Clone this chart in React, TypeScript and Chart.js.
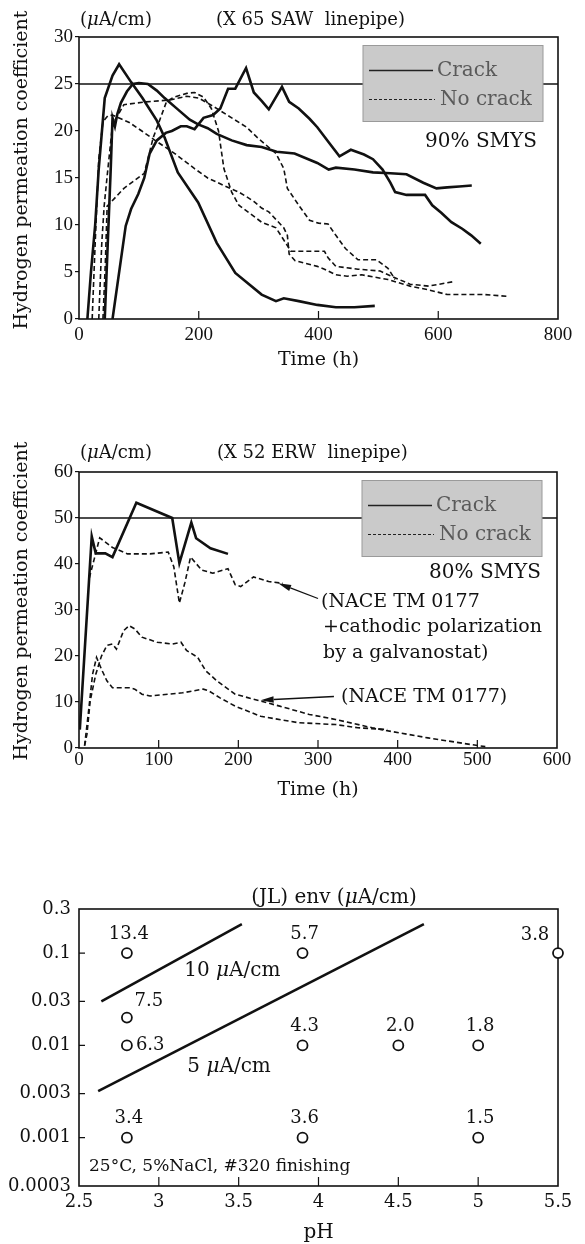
import React, { useEffect, useRef } from "react";
import { Chart, registerables } from "chart.js";

Chart.register(...registerables);

const SERIF = "'DejaVu Serif', 'Liberation Serif', serif";
const TIMES = "'Liberation Serif', 'DejaVu Serif', serif";
const INK = "#111111";
const W = 585;

// ---------------- Panel 1 : X 65 SAW linepipe (90% SMYS) ----------------
const sawTimeTicks = [0, 200, 400, 600, 800];
const sawValueTicks = [0, 5, 10, 15, 20, 25, 30];
const sawThreshold = 25;

const sawCrackAHours = [14, 20, 27, 33, 43, 56, 67, 87, 106, 130, 143, 165, 199, 230, 261, 305, 329, 342, 367, 398, 429, 460, 494];
const sawCrackAValues = [0, 5, 10, 16, 23.5, 25.9, 27.1, 25.2, 23.5, 21.1, 19.3, 15.6, 12.4, 8.1, 4.9, 2.6, 1.9, 2.2, 1.9, 1.5, 1.25, 1.25, 1.4];

const sawCrackBHours = [43, 48, 53, 56, 60, 64, 70, 80, 90, 100, 115, 130, 143, 165, 185, 199, 215, 230, 255, 280, 305, 330, 360, 398, 417, 429, 460, 491, 520, 547, 575, 597, 615, 635, 656];
const sawCrackBValues = [0, 8, 16, 21.4, 20.5, 21.8, 23, 24.2, 25, 25.1, 25, 24.3, 23.5, 22.3, 21.2, 20.7, 20.3, 19.7, 19, 18.5, 18.3, 17.8, 17.6, 16.6, 15.9, 16.1, 15.9, 15.6, 15.5, 15.4, 14.5, 13.9, 14, 14.1, 14.2];

const sawCrackCHours = [56, 78, 87, 99, 109, 118, 130, 145, 155, 170, 180, 193, 208, 224, 236, 249, 261, 279, 292, 305, 317, 339, 351, 367, 385, 398, 417, 435, 454, 476, 491, 507, 520, 528, 547, 578, 590, 605, 622, 640, 655, 671];
const sawCrackCValues = [0, 9.9, 11.7, 13.3, 15, 17.6, 19, 19.8, 20, 20.5, 20.5, 20.2, 21.4, 21.7, 22.4, 24.5, 24.5, 26.7, 24.1, 23.2, 22.3, 24.7, 23.1, 22.4, 21.3, 20.4, 18.8, 17.3, 18, 17.5, 17, 15.9, 14.5, 13.5, 13.2, 13.2, 12.1, 11.3, 10.3, 9.6, 8.9, 8];

const sawNoCrackAHours = [22, 27, 33, 40, 48, 56, 70, 84, 105, 127, 160, 193, 215, 242, 267, 280, 292, 305, 317, 342, 348, 351, 361, 398, 410, 429, 448, 472, 516, 553, 584, 615, 678, 718];
const sawNoCrackAValues = [0, 8, 17, 21, 21.6, 21.7, 21.3, 20.9, 20, 19, 17.6, 16, 15, 14.2, 13.5, 13, 12.5, 11.8, 11.4, 9.7, 8.9, 6.9, 6.2, 5.6, 5.3, 4.7, 4.55, 4.7, 4.2, 3.5, 3.1, 2.6, 2.6, 2.4];

const sawNoCrackBHours = [40, 44, 47, 75, 109, 124, 146, 158, 180, 193, 208, 221, 233, 242, 255, 267, 305, 329, 348, 354, 410, 416, 429, 466, 503, 520, 553, 584, 628];
const sawNoCrackBValues = [0, 6, 12, 13.9, 15.5, 19.3, 23.1, 23.6, 24, 24.1, 23.6, 22.4, 20, 16, 13.5, 12.1, 10.3, 9.7, 7.8, 7.2, 7.2, 6.5, 5.6, 5.3, 5.1, 4.6, 3.7, 3.5, 4];

const sawNoCrackCHours = [33, 38, 42, 47, 56, 75, 112, 152, 180, 200, 225, 255, 280, 298, 329, 342, 348, 367, 385, 400, 416, 429, 445, 466, 497, 516, 528];
const sawNoCrackCValues = [0, 8, 12, 15.2, 20.7, 22.8, 23.1, 23.3, 23.7, 23.5, 22.6, 21.4, 20.4, 19.3, 17.6, 16, 13.9, 12.1, 10.5, 10.2, 10.1, 8.9, 7.5, 6.3, 6.3, 5.4, 4.2];

// ---------------- Panel 2 : X 52 ERW linepipe (80% SMYS) ----------------
const erwTimeTicks = [0, 100, 200, 300, 400, 500, 600];
const erwValueTicks = [0, 10, 20, 30, 40, 50, 60];
const erwThreshold = 50;

const erwCrackHours = [1, 16, 21, 33, 42, 72, 117, 126, 141, 147, 165, 187];
const erwCrackValues = [4, 46, 42.3, 42.3, 41.5, 53.3, 50, 40.2, 49, 45.6, 43.4, 42.2];

const erwGalvanoHours = [13, 19, 26, 42, 61, 89, 112, 119, 126, 133, 140, 154, 168, 187, 196, 203, 219, 238, 256];
const erwGalvanoValues = [37, 41, 45.7, 43.6, 42.2, 42.2, 42.6, 39.4, 31.5, 36, 41.5, 38.7, 38, 39, 35.5, 35.1, 37.2, 36.2, 35.8];

const erwNaceHighHours = [7, 10, 14, 21, 28, 35, 42, 47, 56, 63, 70, 79, 98, 117, 128, 135, 149, 159, 173, 196, 228, 252, 289, 322, 368, 392, 438, 494, 510];
const erwNaceHighValues = [0.5, 3, 10.2, 16, 19.9, 22.3, 22.6, 21.5, 25.5, 26.6, 25.9, 24.1, 23, 22.6, 23, 21.2, 19.7, 16.8, 14.6, 11.7, 10.2, 9.1, 7.3, 6.2, 4.4, 3.6, 2.2, 0.7, 0.3];

const erwNaceLowHours = [7, 12, 17, 22, 28, 35, 42, 63, 70, 79, 89, 112, 130, 156, 163, 177, 196, 228, 275, 322, 350, 387];
const erwNaceLowValues = [0.5, 8, 16, 19.7, 17.2, 14.6, 13.1, 13.1, 12.8, 11.7, 11.3, 11.7, 12, 12.8, 12.4, 10.9, 9.1, 6.9, 5.5, 5.1, 4.4, 4];

// arrow annotations (tail -> head), in hours / µA/cm
const galvanoArrowFrom = [300, 32.5];
const galvanoArrowTo = [250, 35.8];
const naceArrowFrom = [320, 11.2];
const naceArrowTo = [228, 10.4];

// ---------------- Panel 3 : (JL) env vs pH ----------------
const phTicks = [2.5, 3, 3.5, 4, 4.5, 5, 5.5];
const ratioTicks = [0.3, 0.1, 0.03, 0.01, 0.003, 0.001, 0.0003];

const pointPH = [2.8, 2.8, 2.8, 2.8, 3.9, 3.9, 3.9, 4.5, 5.0, 5.0, 5.5];
const pointRatio = [0.1, 0.02, 0.01, 0.001, 0.1, 0.01, 0.001, 0.01, 0.01, 0.001, 0.1];
const pointEnv = ["13.4", "7.5", "6.3", "3.4", "5.7", "4.3", "3.6", "2.0", "1.8", "1.5", "3.8"];
const pointLabelSide = ["above", "aboveRight", "right", "above", "above", "above", "above", "above", "above", "above", "aboveLeft"];

const iso10PH = [2.64, 3.52];
const iso10Ratio = [0.03, 0.206];
const iso5PH = [2.62, 4.66];
const iso5Ratio = [0.0032, 0.206];

const legendLabels = ["Crack", "No crack"];

// ---------------- helpers ----------------
function lineSeries(label: string, xs: number[], ys: number[], dashed: boolean) {
  return {
    label,
    data: xs.map((x, i) => ({ x, y: ys[i] })),
    showLine: true,
    borderColor: INK,
    backgroundColor: INK,
    borderWidth: dashed ? 1.6 : 2.6,
    borderDash: dashed ? [5, 3] : [],
    pointRadius: 0,
    fill: false,
    tension: 0,
  };
}

function refLine(ticks: number[], level: number) {
  return {
    label: "ref",
    data: [{ x: ticks[0], y: level }, { x: ticks[ticks.length - 1], y: level }],
    showLine: true,
    borderColor: INK,
    borderWidth: 1.3,
    pointRadius: 0,
    fill: false,
  };
}

// draws text; the Greek "μ" is set in italic like the source figure
function put(ctx: any, s: string, x: number, y: number, size: number, align = "left", family = SERIF, color = INK) {
  ctx.save();
  ctx.fillStyle = color;
  ctx.textBaseline = "middle";
  const parts = s.split("μ");
  if (parts.length === 1) {
    ctx.font = `${size}px ${family}`;
    ctx.textAlign = align;
    ctx.fillText(s, x, y);
    ctx.restore();
    return;
  }
  const normal = `${size}px ${family}`;
  const ital = `italic ${size}px ${family}`;
  const segs: { t: string; f: string }[] = [];
  parts.forEach((p, i) => {
    if (i > 0) segs.push({ t: "μ", f: ital });
    if (p) segs.push({ t: p, f: normal });
  });
  let total = 0;
  for (const sg of segs) { ctx.font = sg.f; total += ctx.measureText(sg.t).width; }
  let cx = align === "center" ? x - total / 2 : align === "right" ? x - total : x;
  ctx.textAlign = "left";
  for (const sg of segs) {
    ctx.font = sg.f;
    ctx.fillText(sg.t, cx, y);
    cx += ctx.measureText(sg.t).width;
  }
  ctx.restore();
}

function vtitle(ctx: any, s: string, x: number, y: number, size: number) {
  ctx.save();
  ctx.translate(x, y);
  ctx.rotate(-Math.PI / 2);
  ctx.font = `${size}px ${SERIF}`;
  ctx.fillStyle = INK;
  ctx.textAlign = "center";
  ctx.textBaseline = "middle";
  ctx.fillText(s, 0, 0);
  ctx.restore();
}

function frameAndTicks(chart: any, xLen: number, yLen: number) {
  const { ctx, chartArea: a } = chart;
  ctx.save();
  ctx.strokeStyle = INK;
  ctx.lineWidth = 1.2;
  ctx.beginPath();
  if (xLen) {
    const s = chart.scales.x;
    for (const t of s.ticks) {
      const p = s.getPixelForValue(t.value);
      if (p > a.left + 1 && p < a.right - 1) {
        ctx.moveTo(p, a.bottom);
        ctx.lineTo(p, a.bottom - xLen);
      }
    }
  }
  if (yLen) {
    const s = chart.scales.y;
    for (const t of s.ticks) {
      const p = s.getPixelForValue(t.value);
      if (p > a.top + 1 && p < a.bottom - 1) {
        ctx.moveTo(a.left, p);
        ctx.lineTo(a.left + yLen, p);
      }
    }
  }
  ctx.stroke();
  ctx.lineWidth = 1.6;
  ctx.strokeRect(a.left, a.top, a.right - a.left, a.bottom - a.top);
  ctx.restore();
}

function legendBox(chart: any) {
  const { ctx, chartArea: a } = chart;
  const x0 = a.right - 195;
  const y0 = a.top + 8.5;
  const w = 180;
  const h = 76;
  ctx.save();
  ctx.fillStyle = "#cacaca";
  ctx.fillRect(x0, y0, w, h);
  ctx.strokeStyle = "#9a9a9a";
  ctx.lineWidth = 1;
  ctx.strokeRect(x0, y0, w, h);
  ctx.strokeStyle = "#222";
  ctx.lineWidth = 1.6;
  ctx.beginPath();
  ctx.moveTo(x0 + 6, y0 + 25);
  ctx.lineTo(x0 + 70, y0 + 25);
  ctx.stroke();
  ctx.setLineDash([3, 2]);
  ctx.lineWidth = 1.1;
  ctx.beginPath();
  ctx.moveTo(x0 + 6, y0 + 54);
  ctx.lineTo(x0 + 72, y0 + 54);
  ctx.stroke();
  ctx.restore();
  put(ctx, legendLabels[0], x0 + 74, y0 + 25, 20, "left", SERIF, "#5a5a5a");
  put(ctx, legendLabels[1], x0 + 77, y0 + 54, 20, "left", SERIF, "#5a5a5a");
}

function arrow(ctx: any, x1: number, y1: number, x2: number, y2: number) {
  const ang = Math.atan2(y2 - y1, x2 - x1);
  const L = 13;
  const hw = 3.2;
  const bx = x2 - L * Math.cos(ang);
  const by = y2 - L * Math.sin(ang);
  ctx.save();
  ctx.strokeStyle = INK;
  ctx.fillStyle = INK;
  ctx.lineWidth = 1.3;
  ctx.beginPath();
  ctx.moveTo(x1, y1);
  ctx.lineTo(bx, by);
  ctx.stroke();
  ctx.beginPath();
  ctx.moveTo(x2, y2);
  ctx.lineTo(bx + hw * Math.sin(ang), by - hw * Math.cos(ang));
  ctx.lineTo(bx - hw * Math.sin(ang), by + hw * Math.cos(ang));
  ctx.closePath();
  ctx.fill();
  ctx.restore();
}

function linearAxes(xTicks: number[], yTicks: number[], xHeight: number, xPad: number) {
  return {
    x: {
      type: "linear",
      min: xTicks[0],
      max: xTicks[xTicks.length - 1],
      afterBuildTicks: (s: any) => { s.ticks = xTicks.map((value) => ({ value })); },
      afterFit: (s: any) => { s.height = xHeight; },
      grid: { display: false, drawTicks: false },
      border: { display: false },
      ticks: { padding: xPad, color: INK, font: { family: TIMES, size: 19 }, maxRotation: 0, callback: (v: any) => String(v) },
    },
    y: {
      type: "linear",
      min: yTicks[0],
      max: yTicks[yTicks.length - 1],
      afterBuildTicks: (s: any) => { s.ticks = yTicks.map((value) => ({ value })); },
      afterFit: (s: any) => { s.width = 79; },
      grid: { display: true, drawOnChartArea: false, drawTicks: true, tickLength: 4, color: INK, lineWidth: 1.2 },
      border: { display: false },
      ticks: { padding: 2, color: INK, font: { family: TIMES, size: 19 }, callback: (v: any) => String(v) },
    },
  };
}

// ---------------- chart configs ----------------
function sawConfig() {
  const decor = {
    id: "sawDecor",
    beforeDatasetsDraw(chart: any) { frameAndTicks(chart, 8, 0); },
    afterDraw(chart: any) {
      const { ctx, chartArea: a } = chart;
      legendBox(chart);
      put(ctx, "(μA/cm)", a.left + 1, a.top - 17, 18);
      put(ctx, "(X 65 SAW  linepipe)", a.left + 137, a.top - 17, 18);
      put(ctx, "90% SMYS", a.right - 21, a.top + 105, 20, "right");
      put(ctx, "Time (h)", (a.left + a.right) / 2, a.bottom + 41, 19, "center");
      vtitle(ctx, "Hydrogen permeation coefficient", 22, (a.top + a.bottom) / 2 - 8, 19);
    },
  };
  return {
    type: "scatter",
    data: {
      datasets: [
        refLine(sawTimeTicks, sawThreshold),
        lineSeries(legendLabels[0], sawCrackAHours, sawCrackAValues, false),
        lineSeries(legendLabels[0], sawCrackBHours, sawCrackBValues, false),
        lineSeries(legendLabels[0], sawCrackCHours, sawCrackCValues, false),
        lineSeries(legendLabels[1], sawNoCrackAHours, sawNoCrackAValues, true),
        lineSeries(legendLabels[1], sawNoCrackBHours, sawNoCrackBValues, true),
        lineSeries(legendLabels[1], sawNoCrackCHours, sawNoCrackCValues, true),
      ],
    },
    options: {
      animation: false,
      responsive: false,
      devicePixelRatio: 1,
      layout: { padding: { top: 37, right: 27, left: 0, bottom: 0 } },
      plugins: { legend: { display: false }, tooltip: { enabled: false } },
      scales: linearAxes(sawTimeTicks, sawValueTicks, 71, 5),
    },
    plugins: [decor],
  };
}

function erwConfig() {
  const decor = {
    id: "erwDecor",
    beforeDatasetsDraw(chart: any) { frameAndTicks(chart, 8, 0); },
    afterDraw(chart: any) {
      const { ctx, chartArea: a, scales } = chart;
      const px = (t: number) => scales.x.getPixelForValue(t);
      const py = (v: number) => scales.y.getPixelForValue(v);
      legendBox(chart);
      put(ctx, "(μA/cm)", a.left + 1, a.top - 19, 18);
      put(ctx, "(X 52 ERW  linepipe)", a.left + 138, a.top - 19, 18);
      put(ctx, "80% SMYS", a.right - 16, a.top + 101, 20, "right");
      put(ctx, "(NACE TM 0177", 321, a.top + 130, 19);
      put(ctx, "+cathodic polarization", 323, a.top + 155, 19);
      put(ctx, "by a galvanostat)", 323, a.top + 181, 19);
      put(ctx, "(NACE TM 0177)", 341, a.top + 225, 19);
      arrow(ctx, px(galvanoArrowFrom[0]), py(galvanoArrowFrom[1]), px(galvanoArrowTo[0]), py(galvanoArrowTo[1]));
      arrow(ctx, px(naceArrowFrom[0]), py(naceArrowFrom[1]), px(naceArrowTo[0]), py(naceArrowTo[1]));
      put(ctx, "Time (h)", (a.left + a.right) / 2, a.bottom + 42, 19, "center");
      vtitle(ctx, "Hydrogen permeation coefficient", 22, (a.top + a.bottom) / 2 - 9, 19);
    },
  };
  return {
    type: "scatter",
    data: {
      datasets: [
        refLine(erwTimeTicks, erwThreshold),
        lineSeries(legendLabels[0], erwCrackHours, erwCrackValues, false),
        lineSeries(legendLabels[1], erwGalvanoHours, erwGalvanoValues, true),
        lineSeries(legendLabels[1], erwNaceHighHours, erwNaceHighValues, true),
        lineSeries(legendLabels[1], erwNaceLowHours, erwNaceLowValues, true),
      ],
    },
    options: {
      animation: false,
      responsive: false,
      devicePixelRatio: 1,
      layout: { padding: { top: 82, right: 28, left: 0, bottom: 0 } },
      plugins: { legend: { display: false }, tooltip: { enabled: false } },
      scales: linearAxes(erwTimeTicks, erwValueTicks, 72, 1),
    },
    plugins: [decor],
  };
}

function envConfig() {
  const decor = {
    id: "envDecor",
    beforeDatasetsDraw(chart: any) { frameAndTicks(chart, 9, 6); },
    afterDraw(chart: any) {
      const { ctx, chartArea: a, scales } = chart;
      const px = (v: number) => scales.x.getPixelForValue(v);
      const py = (v: number) => scales.y.getPixelForValue(v);
      pointPH.forEach((ph, i) => {
        const x = px(ph);
        const y = py(pointRatio[i]);
        const side = pointLabelSide[i];
        if (side === "above") put(ctx, pointEnv[i], x + 2, y - 19, 18, "center");
        else if (side === "aboveRight") put(ctx, pointEnv[i], x + 22, y - 16, 18, "center");
        else if (side === "right") put(ctx, pointEnv[i], x + 9, y, 18, "left");
        else put(ctx, pointEnv[i], x - 23, y - 18, 18, "center");
      });
      put(ctx, "10 μA/cm", px(3.46), py(0.064), 20, "center");
      put(ctx, "5 μA/cm", px(3.44), py(0.0058), 20, "center");
      put(ctx, "25°C, 5%NaCl, #320 finishing", a.left + 10, a.bottom - 19, 17);
      put(ctx, "(JL) env (μA/cm)", 334, a.top - 11, 20, "center");
      put(ctx, "pH", (a.left + a.right) / 2, a.bottom + 47, 20, "center");
    },
  };
  return {
    type: "scatter",
    data: {
      datasets: [
        lineSeries("10 μA/cm", iso10PH, iso10Ratio, false),
        lineSeries("5 μA/cm", iso5PH, iso5Ratio, false),
        {
          label: "(JL) env",
          data: pointPH.map((x, i) => ({ x, y: pointRatio[i] })),
          pointRadius: 5,
          pointBorderWidth: 1.8,
          pointBackgroundColor: "#ffffff",
          pointBorderColor: INK,
          clip: false,
        },
      ],
    },
    options: {
      animation: false,
      responsive: false,
      devicePixelRatio: 1,
      layout: { padding: { top: 89, right: 27, left: 0, bottom: 0 } },
      plugins: { legend: { display: false }, tooltip: { enabled: false } },
      scales: {
        x: {
          type: "linear",
          min: phTicks[0],
          max: phTicks[phTicks.length - 1],
          afterBuildTicks: (s: any) => { s.ticks = phTicks.map((value) => ({ value })); },
          afterFit: (s: any) => { s.height = 58; },
          grid: { display: false, drawTicks: false },
          border: { display: false },
          ticks: { padding: 6, color: INK, font: { family: SERIF, size: 18 }, maxRotation: 0, callback: (v: any) => String(v) },
        },
        y: {
          type: "logarithmic",
          min: ratioTicks[ratioTicks.length - 1],
          max: ratioTicks[0],
          afterBuildTicks: (s: any) => { s.ticks = ratioTicks.map((value) => ({ value })); },
          afterFit: (s: any) => { s.width = 79; },
          grid: { display: false, drawTicks: false },
          border: { display: false },
          ticks: { padding: 8, color: INK, font: { family: SERIF, size: 18 }, callback: (v: any) => String(v) },
        },
      },
    },
    plugins: [decor],
  };
}

function Panel({ top, height, build }: { top: number; height: number; build: () => any }) {
  const ref = useRef<HTMLCanvasElement>(null);
  useEffect(() => {
    const chart = new Chart(ref.current as HTMLCanvasElement, build());
    return () => chart.destroy();
  }, []);
  return (
    <canvas
      ref={ref}
      width={W}
      height={height}
      style={{ position: "absolute", left: 0, top, width: W, height, display: "block" }}
    />
  );
}

export default function App() {
  return (
    <div style={{ position: "absolute", left: 0, top: 0, width: W, height: 1244, background: "#ffffff", overflow: "hidden" }}>
      <Panel top={0} height={390} build={sawConfig} />
      <Panel top={390} height={430} build={erwConfig} />
      <Panel top={820} height={424} build={envConfig} />
    </div>
  );
}
